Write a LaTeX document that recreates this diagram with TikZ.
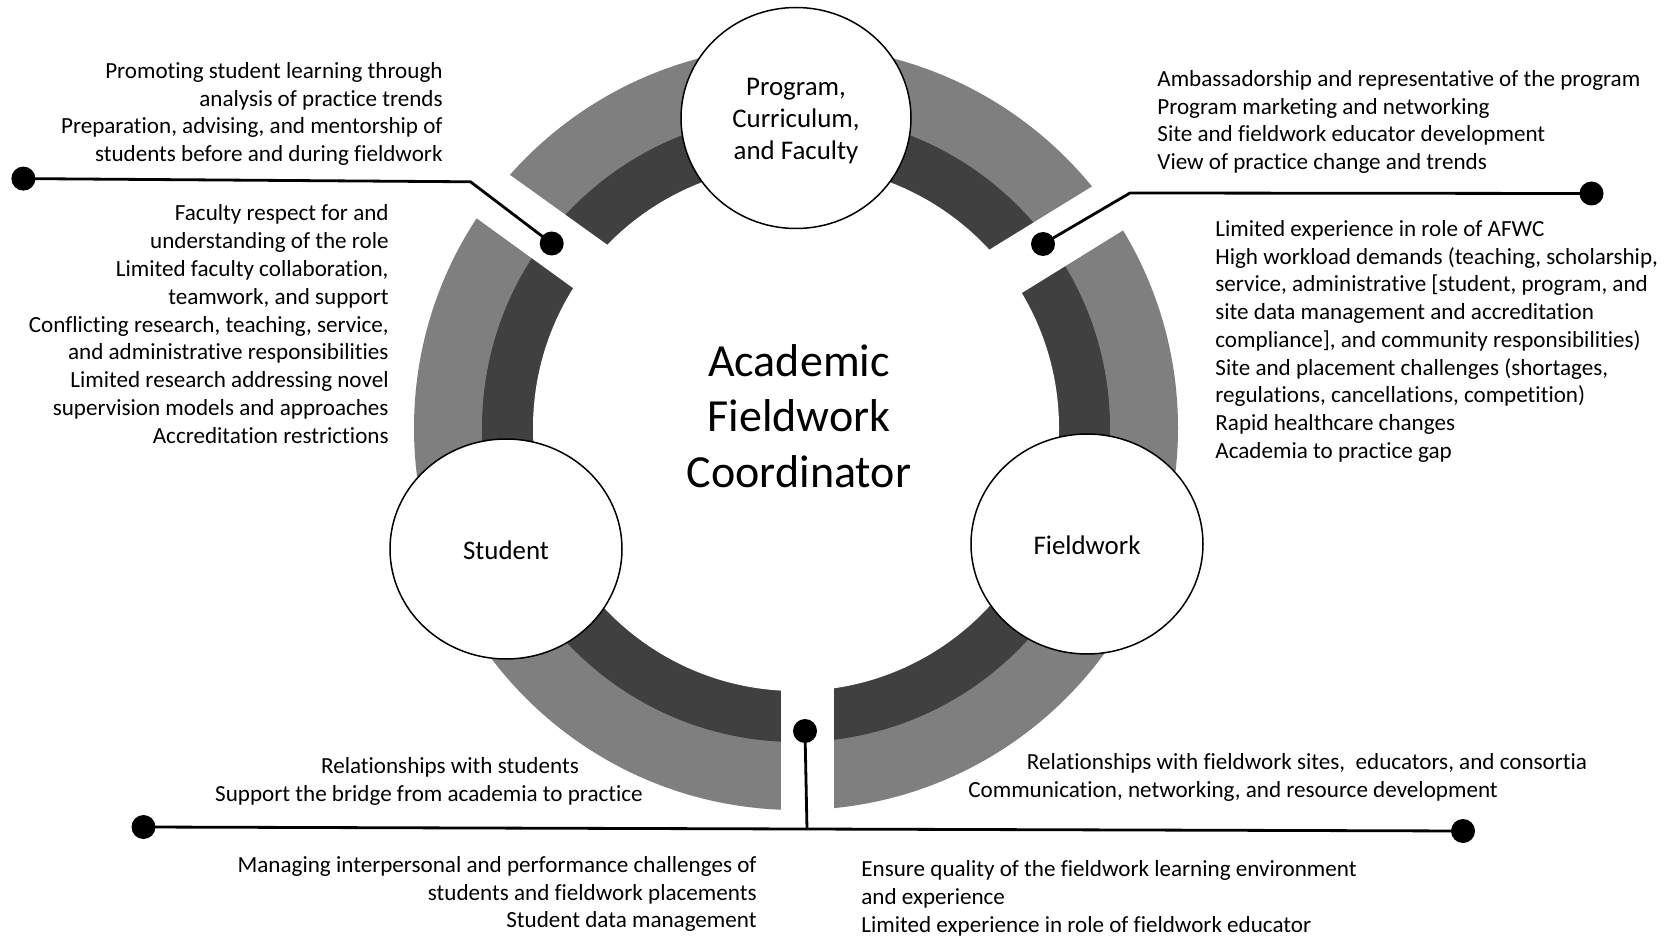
\documentclass[tikz,border=0pt]{standalone}
\usepackage{fontspec}
\setmainfont{Carlito}[Ligatures=NoCommon]
\usetikzlibrary{shapes.geometric}
\definecolor{ringlight}{HTML}{7F7F7F}
\definecolor{ringdark}{HTML}{404040}
\begin{document}
\begin{tikzpicture}[x=0.5pt,y=-0.5pt,
  txt/.style={font=\fontsize{11.55}{13.2}\selectfont, inner sep=0pt},
  hub/.style={ellipse, draw=black, line width=0.75pt, fill=white,
    minimum width=116pt, minimum height=110pt, inner sep=0pt, align=center},
  hubtxt/.style={font=\fontsize{13.45}{16}\selectfont, align=center, inner sep=0pt},
  conn/.style={line width=1.4pt},
  dot/.style={circle, fill=black, minimum size=12pt, inner sep=0pt},
  gapfill/.style={fill=white}]
\useasboundingbox (0,0) rectangle (1667,936);
\fill[white] (0,0) rectangle (1667,936);
% ring
\coordinate (C) at (796,428);
\fill[ringlight] (C) circle[radius=191pt];
\fill[ringdark] (C) circle[radius=157pt];
\fill[white] (C) circle[radius=131.5pt];
% gaps
\fill[gapfill] (781,450) -- (834,450) -- (834,840) -- (781,840) -- cycle;
\fill[gapfill] (450.7,199.4) -- (621.6,323.2) -- (656.6,280.2) -- (482.7,155.4) -- cycle;
\fill[gapfill] (1117.3,171) -- (938.9,280.7) -- (971.6,324.1) -- (1148.9,214.3) -- cycle;
% hubs
\node[hub, minimum width=115pt, minimum height=110.5pt] (prog) at (796,118) {};
\node[hubtxt] (progtxt) at (796,121) {Program,\\Curriculum,\\and Faculty};
\node[hub] (stud) at (506,549) {};
\node[hubtxt] (studtxt) at (506,550.5) {Student};
\node[hub] (field) at (1087,544) {};
\node[hubtxt] (fieldtxt) at (1087,545.5) {Fieldwork};
\node[font=\fontsize{23}{27.6}\selectfont, align=center, inner sep=0pt] (afwc) at (799,416) {Academic\\Fieldwork\\Coordinator};
% connectors
\node[dot] (d1) at (23.4,178.6) {};
\coordinate (b1) at (470.5,181.8);
\node[dot] (d2) at (551.7,243.5) {};
\draw[conn] (d1.center) -- (b1) -- (d2.center);
\node[dot] (d3) at (1043,244) {};
\coordinate (b2) at (1130,193);
\node[dot] (d4) at (1591.5,193.5) {};
\draw[conn] (d3.center) -- (b2) -- (d4.center);
\node[dot] (d5) at (805,731) {};
\coordinate (b3) at (807,829);
\node[dot] (d6) at (143.5,827) {};
\node[dot] (d7) at (1463,831) {};
\draw[conn] (d5.center) -- (b3);
\draw[conn] (d6.center) -- (d7.center);
% text blocks
\foreach \t [count=\i from 0] in {{Promoting student learning through},{analysis of practice trends},{Preparation, advising, and mentorship of},{students before and during fieldwork}}
  \node[txt, anchor=mid east] (tl\i) at (443, 73.7+27.65*\i) {\t};
\foreach \t [count=\i from 0] in {{Faculty respect for and},{understanding of the role},{Limited faculty collaboration,},{teamwork, and support},{Conflicting research, teaching, service,},{and administrative responsibilities},{Limited research addressing novel},{supervision models and approaches},{Accreditation restrictions}}
  \node[txt, anchor=mid east] (ml\i) at (389, 216.2+27.8*\i) {\t};
\foreach \t [count=\i from 0] in {{Ambassadorship and representative of the program},{Program marketing and networking},{Site and fieldwork educator development},{View of practice change and trends}}
  \node[txt, anchor=mid west] (tr\i) at (1157, 81.5+27.8*\i) {\t};
\foreach \t [count=\i from 0] in {{Limited experience in role of AFWC},{High workload demands (teaching, scholarship,},{service, administrative [student, program, and},{site data management and accreditation},{compliance], and community responsibilities)},{Site and placement challenges (shortages,},{regulations, cancellations, competition)},{Rapid healthcare changes},{Academia to practice gap}}
  \node[txt, anchor=mid west] (mr\i) at (1215, 231.8+27.7*\i) {\t};
\node[txt, anchor=mid] (bl0) at (450,768.9) {Relationships with students};
\node[txt, anchor=mid] (bl1) at (429,796.5) {Support the bridge from academia to practice};
\foreach \t [count=\i from 0] in {{Managing interpersonal and performance challenges of},{students and fieldwork placements},{Student data management}}
  \node[txt, anchor=mid east] (bb\i) at (757, 867.8+27.65*\i) {\t};
\node[txt, anchor=mid] (br0) at (1307,764.5) {Relationships with fieldwork sites,~ educators, and consortia};
\node[txt, anchor=mid] (br1) at (1233,792.5) {Communication, networking, and resource development};
\foreach \t [count=\i from 0] in {{Ensure quality of the fieldwork learning environment},{and experience},{Limited experience in role of fieldwork educator}}
  \node[txt, anchor=mid west] (bq\i) at (861, 872+27.65*\i) {\t};
\end{tikzpicture}
\end{document}
